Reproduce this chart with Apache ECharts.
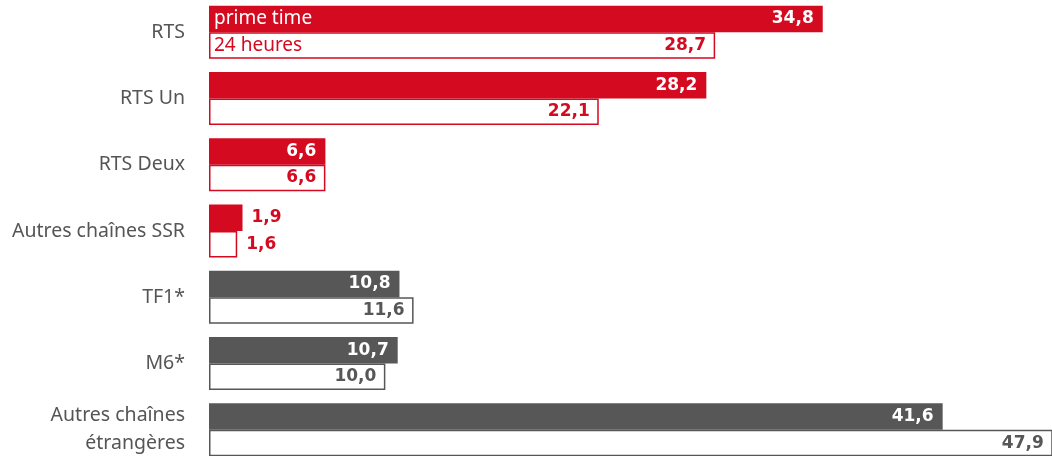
<!DOCTYPE html>
<html>
<head>
<meta charset="utf-8">
<script src="https://cdn.jsdelivr.net/npm/echarts@6/dist/echarts.min.js"></script>
<style>
  html, body { margin: 0; padding: 0; background: #fff; }
  #chart { width: 1052px; height: 456px; }
</style>
</head>
<body>
<div id="chart"></div>
<script>
// données (parts de marché, %)
var categories = ['RTS', 'RTS Un', 'RTS Deux', 'Autres chaînes SSR', 'TF1*', 'M6*', 'Autres chaînes\nétrangères'];
var primeTime = [34.8, 28.2, 6.6, 1.9, 10.8, 10.7, 41.6];
var heures24 = [28.7, 22.1, 6.6, 1.6, 11.6, 10.0, 47.9];
var isSSR = [true, true, true, true, false, false, false];
var seriesNames = ['prime time', '24 heures'];

var RED = '#D40A20';
var GREY = '#575757';

function fmt(v) {
  return v.toFixed(1).replace('.', ',');
}

var chart = echarts.init(document.getElementById('chart'));

// petites barres : étiquette à l'extérieur
function labelPos(v) {
  return v < 3 ? 'right' : 'insideRight';
}

var primeData = primeTime.map(function (v, i) {
  var c = isSSR[i] ? RED : GREY;
  var outside = labelPos(v) == 'right';
  return {
    value: v,
    itemStyle: { color: c },
    label: { position: labelPos(v), color: outside ? c : '#fff' }
  };
});

var dayData = heures24.map(function (v, i) {
  var c = isSSR[i] ? RED : GREY;
  return {
    value: v,
    itemStyle: { color: '#fff', borderColor: c, borderWidth: 1.5 },
    label: { position: labelPos(v), color: c }
  };
});

// libellés des séries dans la première catégorie seulement
function nameData(name, color) {
  return categories.map(function (c, i) {
    return {
      value: 0,
      label: { show: i == 0, formatter: name, color: color }
    };
  });
}

var valueLabel = {
  show: true,
  fontFamily: 'DejaVu Sans',
  fontSize: 17,
  fontWeight: 'bold',
  distance: 9,
  formatter: function (p) { return fmt(p.value); }
};

var nameLabel = {
  position: 'right',
  distance: 5,
  fontFamily: 'Noto Sans',
  fontSize: 19
};

var option = {
  animation: false,
  grid: { left: 209, width: 843, top: -1, height: 464, outerBoundsMode: 'none' },
  xAxis: {
    type: 'value',
    min: 0,
    max: 47.8,
    show: false
  },
  yAxis: {
    type: 'category',
    inverse: true,
    data: categories,
    axisLine: { show: false },
    axisTick: { show: false },
    axisLabel: {
      margin: 24,
      color: '#555',
      fontFamily: 'Noto Sans',
      fontSize: 19.5,
      lineHeight: 28
    }
  },
  series: [{
    name: 'label-prime',
    type: 'bar',
    stack: 'prime',
    barWidth: 26.5,
    barGap: '0%',
    data: nameData(seriesNames[0], '#fff'),
    label: nameLabel,
    z: 3
  }, {
    name: seriesNames[0],
    type: 'bar',
    stack: 'prime',
    barWidth: 26.5,
    barGap: '0%',
    data: primeData,
    label: valueLabel
  }, {
    name: 'label-24h',
    type: 'bar',
    stack: 'day',
    barWidth: 26.5,
    barGap: '0%',
    data: nameData(seriesNames[1], RED),
    label: nameLabel,
    z: 3
  }, {
    name: seriesNames[1],
    type: 'bar',
    stack: 'day',
    barWidth: 26.5,
    barGap: '0%',
    data: dayData,
    label: valueLabel
  }]
};

chart.setOption(option);
</script>
</body>
</html>
